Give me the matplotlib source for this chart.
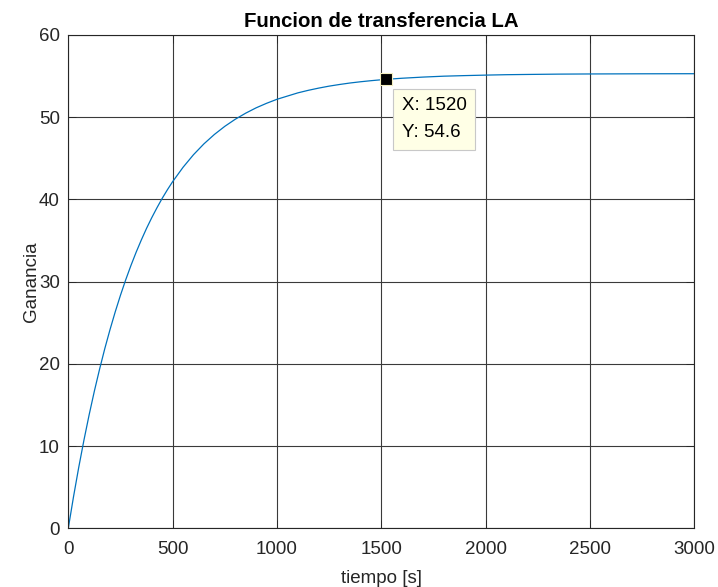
import numpy as np
import matplotlib.pyplot as plt

plt.rcParams['font.family'] = ['Liberation Sans', 'DejaVu Sans']

# values
tiempo = [0, 25, 50, 75, 100, 125, 150, 175, 200, 225, 250, 275, 300, 325, 350,
          375, 400, 425, 450, 475, 500, 550, 600, 650, 700, 750, 800, 850, 900,
          950, 1000, 1100, 1150, 1200, 1250, 1300, 1350, 1400, 1450, 1520, 1600,
          1700, 1800, 1900, 2000, 2100, 2200, 2350, 2500, 2750, 3000]
ganancia = [0, 3.83, 7.40, 10.72, 13.81, 16.69, 19.36, 21.86, 24.17, 26.33, 28.34,
            30.21, 31.95, 33.57, 35.07, 36.48, 37.78, 38.99, 40.13, 41.18, 42.16,
            43.91, 45.44, 46.76, 47.90, 48.89, 49.75, 50.49, 51.14, 51.69, 52.18,
            52.96, 53.27, 53.54, 53.78, 53.98, 54.16, 54.31, 54.44, 54.6, 54.74,
            54.88, 54.99, 55.06, 55.12, 55.17, 55.20, 55.24, 55.26, 55.28, 55.29]

tip_x = 1520
tip_y = 54.6

fig = plt.figure(figsize=(7.18, 5.87), dpi=100)
ax = fig.add_axes([0.0951, 0.100, 0.872, 0.8404])

ax.plot(tiempo, ganancia, color='#0072BD', lw=0.9)

ax.set_xlim(0, 3000)
ax.set_ylim(0, 60)
ax.set_xticks(np.arange(0, 3001, 500))
ax.set_yticks(np.arange(0, 61, 10))
ax.grid(True, color='#3a3a3a', lw=0.8)
ax.tick_params(direction='in', length=6, width=0.6, colors='#262626',
               labelsize=13.5, top=True, right=True)
ax.tick_params(axis='x', pad=9)
ax.tick_params(axis='y', pad=6)
for s in ax.spines.values():
    s.set_color('#262626')
    s.set_linewidth(0.8)

ax.set_title('Funcion de transferencia LA', fontsize=14.7, fontweight='bold',
             color='black', pad=6)
ax.set_xlabel('tiempo [s]', fontsize=13.5, color='#262626', labelpad=9)
ax.set_ylabel('Ganancia', fontsize=13.5, color='#262626', labelpad=-1)

# data tip
ax.plot([tip_x], [tip_y], marker='s', ms=8, mfc='black', mec='#f5f0c0',
        mew=0.8, zorder=5)
ax.annotate('X: %d\nY: %.1f' % (tip_x, tip_y), xy=(tip_x, tip_y),
            xytext=(16, -18), textcoords='offset pixels', ha='left', va='top',
            fontsize=13.5, color='black', linespacing=1.75,
            bbox=dict(boxstyle='square,pad=0.45', fc='#ffffe6', ec='#c8c8c8', lw=0.8),
            zorder=6)

fig.savefig('out.png', dpi=100)
